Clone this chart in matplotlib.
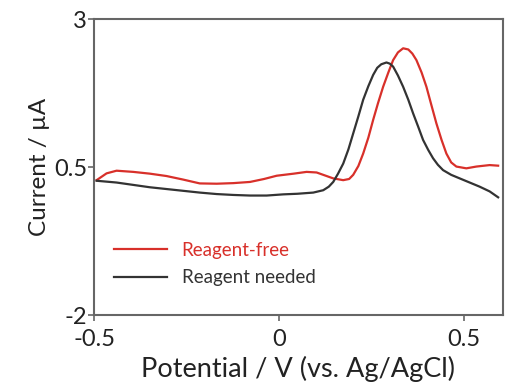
import matplotlib.pyplot as plt
import numpy as np

# Potential (V) and current (uA)
x_free = [-0.493, -0.466, -0.439, -0.394, -0.349, -0.304, -0.259, -0.214, -0.168, -0.123, -0.078, -0.040,
          -0.006, 0.040, 0.075, 0.102, 0.129, 0.147, 0.174, 0.190, 0.201, 0.215, 0.228, 0.242, 0.255,
          0.268, 0.282, 0.296, 0.309, 0.322, 0.336, 0.350, 0.361, 0.372, 0.386, 0.399, 0.412, 0.426,
          0.440, 0.453, 0.466, 0.480, 0.507, 0.534, 0.570, 0.593]
y_free = [0.28, 0.395, 0.44, 0.42, 0.39, 0.35, 0.29, 0.225, 0.22, 0.23, 0.25, 0.30,
          0.355, 0.39, 0.42, 0.41, 0.35, 0.31, 0.28, 0.30, 0.37, 0.52, 0.73, 1.00, 1.30,
          1.58, 1.86, 2.10, 2.31, 2.44, 2.51, 2.49, 2.42, 2.31, 2.10, 1.86, 1.56, 1.24,
          0.96, 0.73, 0.58, 0.51, 0.48, 0.51, 0.535, 0.525]

x_need = [-0.493, -0.439, -0.394, -0.349, -0.304, -0.259, -0.214, -0.168, -0.123, -0.078, -0.033, 0.012,
          0.050, 0.093, 0.120, 0.135, 0.147, 0.160, 0.174, 0.188, 0.201, 0.215, 0.228, 0.242, 0.255,
          0.266, 0.277, 0.291, 0.300, 0.309, 0.322, 0.336, 0.350, 0.363, 0.377, 0.390, 0.404, 0.417,
          0.430, 0.444, 0.466, 0.489, 0.516, 0.543, 0.570, 0.593]
y_need = [0.27, 0.24, 0.20, 0.16, 0.13, 0.10, 0.07, 0.045, 0.03, 0.02, 0.02, 0.04,
          0.05, 0.07, 0.11, 0.17, 0.25, 0.39, 0.56, 0.80, 1.07, 1.36, 1.64, 1.87, 2.06,
          2.18, 2.24, 2.27, 2.25, 2.20, 2.05, 1.86, 1.64, 1.41, 1.18, 0.96, 0.79, 0.65,
          0.54, 0.45, 0.37, 0.31, 0.24, 0.17, 0.09, -0.01]

labels = ['Reagent-free', 'Reagent needed']
colors = ['#d8302a', '#333333']

plt.rcParams['font.family'] = ['Lato', 'DejaVu Sans']

fig = plt.figure(figsize=(5.12, 3.9), dpi=100, facecolor='white')
ax = fig.add_axes([0.1836, 0.1923, 0.798, 0.7582])

ax.plot(x_free, y_free, color=colors[0], lw=1.6, label=labels[0])
ax.plot(x_need, y_need, color=colors[1], lw=1.6, label=labels[1])

ax.set_xlim(-0.5, 0.605)
ax.set_ylim(-2, 3)
ax.set_xticks([-0.5, 0, 0.5])
ax.set_xticklabels(['-0.5', '0', '0.5'])
ax.set_yticks([-2, 0.5, 3])
ax.set_yticklabels(['-2', '0.5', '3'])

for spine in ax.spines.values():
    spine.set_edgecolor('#666666')
    spine.set_linewidth(1.5)
ax.tick_params(axis='both', direction='out', length=4, width=1.2, color='#666666',
               labelsize=17, labelcolor='#222222')
ax.tick_params(axis='x', pad=6)
ax.tick_params(axis='y', pad=1)

ax.set_xlabel('Potential / V (vs. Ag/AgCl)', fontsize=19.5, color='#222222', labelpad=4)
ax.set_ylabel('Current / µA', fontsize=17.5, color='#222222', labelpad=3)

leg = ax.legend(loc='lower left', bbox_to_anchor=(0.008, 0.04), frameon=False, fontsize=13.5,
                handlelength=2.8, handletextpad=0.8, labelspacing=0.55, labelcolor=colors)

fig.savefig('out.png', dpi=100, facecolor='white')
